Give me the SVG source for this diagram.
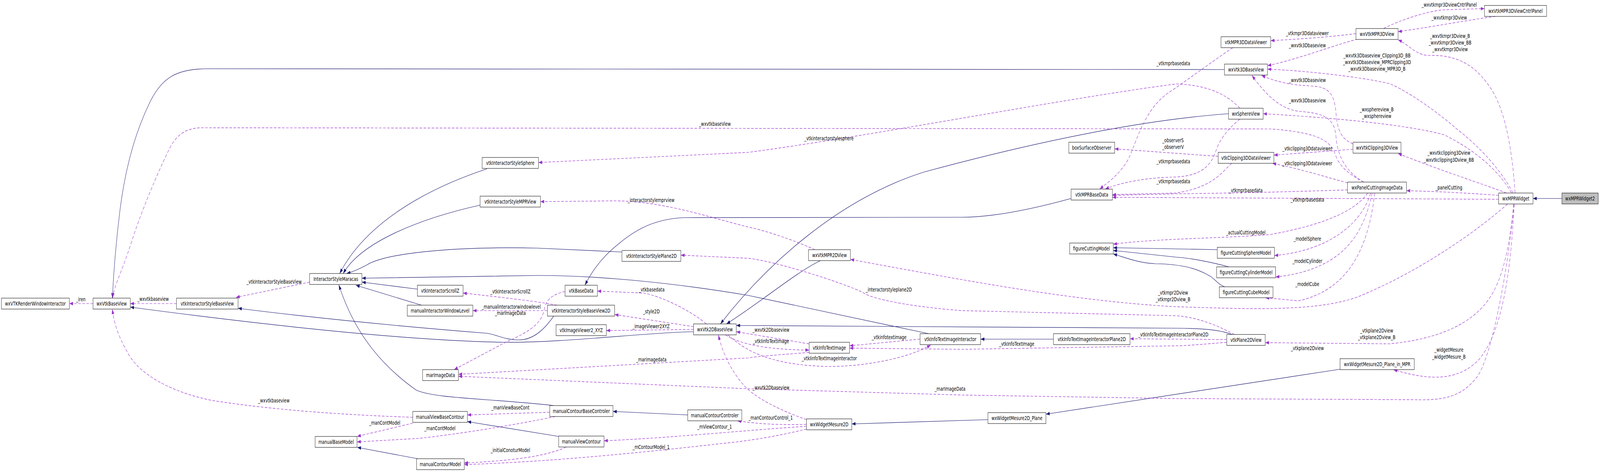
<svg xmlns="http://www.w3.org/2000/svg" width="5539" height="1208" viewBox="0 0 5539 1208" preserveAspectRatio="none">
<style>
svg{width:100vw;height:100vh;display:block}
.n rect{fill:#fff;stroke:#000;stroke-width:1}
.n text,.l{font-family:"DejaVu Sans",sans-serif;font-size:13.33px;text-anchor:middle;fill:#000}
.s{fill:none;stroke:#191970;stroke-width:1.2;marker-end:url(#ab)}
.d{fill:none;stroke:#9a32cd;stroke-width:1.2;stroke-dasharray:9,5;marker-end:url(#ap)}
</style>
<defs>
<marker id="ab" viewBox="0 0 13 9" refX="13" refY="4.5" markerWidth="13" markerHeight="9" markerUnits="userSpaceOnUse" orient="auto"><path d="M0,0L13,4.5L0,9z" fill="#191970"/></marker>
<marker id="ap" viewBox="0 0 13 9" refX="13" refY="4.5" markerWidth="13" markerHeight="9" markerUnits="userSpaceOnUse" orient="auto"><path d="M0,0L13,4.5L0,9z" fill="#9a32cd"/></marker>
</defs>
<rect width="5539" height="1208" fill="#fff"/>
<g id="connectors">
<path class="s" d="M5407,508 L5307,508"/>
<path class="s" d="M4239,178 L718,176 C610,176 560,200 520,260 C460,350 430,450 415,540 C400,630 393,700 389,763"/>
<path class="s" d="M2401,849 C2250,850 1950,878 1744,876 C1450,872 1000,840 451,786"/>
<path class="s" d="M1917,809 C1895,832 1855,870 1796,870 C1750,870 1720,857 1687,853 C1400,836 1100,815 824,789"/>
<path class="s" d="M1686,432 C1450,490 1260,580 1176,700"/>
<path class="s" d="M1662,525 C1450,560 1250,620 1188,700"/>
<path class="s" d="M2153,645 L1860,635 C1550,630 1330,650 1270,678 C1240,690 1215,697 1200,700"/>
<path class="s" d="M3215,854 L2590,756 C2300,720 2050,705 1860,705 L1253,712"/>
<path class="s" d="M1445,740 L1253,722"/>
<path class="s" d="M1459,781 L1232,730"/>
<path class="s" d="M1917,1038 C1700,1020 1500,1020 1440,998 C1330,940 1230,860 1173,729"/>
<path class="s" d="M3708,508 C3600,530 3450,556 3330,556 L2370,557 C2250,560 2180,600 2140,625 C2080,660 2045,700 2025,730"/>
<path class="s" d="M4253,291 C3900,310 3500,380 3200,440 C2900,510 2650,680 2494,829"/>
<path class="s" d="M2840,667 C2750,700 2640,770 2515,829"/>
<path class="s" d="M4265,856 C4220,843 4150,840 4070,840 L2549,833"/>
<path class="s" d="M1934,1117 L1618,1079"/>
<path class="s" d="M2381,1062 L2122,1053"/>
<path class="s" d="M1446,1174 L1237,1145"/>
<path class="s" d="M3647,868 L3395,868"/>
<path class="s" d="M4214,639 L3854,634"/>
<path class="s" d="M4254,683 C4200,672 4120,660 4070,658 L3854,641"/>
<path class="s" d="M4240,734 C4215,728 4205,712 4185,705 C4150,690 4100,676 4000,675 C3940,673 3900,660 3854,650"/>
<path class="s" d="M3420,1074 L2949,1085"/>
<path class="s" d="M4639,945 L3621,1060"/>

<path class="d" d="M322,777 L240,777"/>
<path class="d" d="M611,777 L451,777"/>
<path class="d" d="M1072,722 L817,761"/>
<path class="d" d="M4292,277 C4240,235 4160,216 4070,215 C3700,250 3000,350 2590,390 L1864,416"/>
<path class="d" d="M4721,466 C4680,450 4640,430 4625,400 C4610,365 4580,340 4400,330 L700,327 C640,327 612,348 592,373 C545,440 480,560 455,620 C420,700 395,730 390,763"/>
<path class="d" d="M2821,639 C2750,615 2650,590 2590,581 C2450,555 2300,516 2133,514 L1871,516"/>
<path class="d" d="M4273,856 C4220,835 4150,812 4070,808 L3330,795 C3150,785 3020,765 2990,750 C2960,735 2700,670 2590,661 L2357,653"/>
<path class="d" d="M2445,829 C2400,800 2300,760 2228,750 L2068,745"/>
<path class="d" d="M2401,836 L2128,805"/>
<path class="d" d="M2401,843 L2099,846"/>
<path class="d" d="M2801,902 C2700,908 2620,912 2590,916 L1587,958"/>
<path class="d" d="M5242,522 C5215,720 5160,920 5112,966 C5060,1015 5000,1025 4900,1023 L4070,1020 L3330,1011 L2590,995 L1587,963"/>
<path class="d" d="M1956,746 C1905,755 1890,770 1885,790 C1875,830 1830,850 1750,876 L1572,946"/>
<path class="d" d="M2801,880 L2549,849"/>
<path class="d" d="M2511,857 C2560,880 2650,895 2801,896"/>
<path class="d" d="M2520,857 C2570,890 2650,935 2870,938 C3000,938 3150,915 3222,883"/>
<path class="d" d="M3185,868 L2941,885"/>
<path class="d" d="M4247,876 C4150,882 4100,885 4070,885 L3330,894 L2941,891"/>
<path class="d" d="M4247,869 L3912,867"/>
<path class="d" d="M2792,1074 C2700,1050 2620,1020 2580,990 C2530,950 2500,900 2487,857"/>
<path class="d" d="M2792,1086 C2700,1088 2620,1085 2553,1077"/>
<path class="d" d="M2792,1091 C2600,1100 2300,1122 2091,1128"/>
<path class="d" d="M2792,1098 C2700,1115 2600,1128 2500,1135 C2200,1160 1900,1182 1607,1189"/>
<path class="d" d="M1960,1144 C1900,1165 1800,1178 1607,1185"/>
<path class="d" d="M1903,1055 L1618,1062"/>
<path class="d" d="M1922,1066 C1800,1085 1600,1110 1450,1122 L1236,1131"/>
<path class="d" d="M1429,1083 L1236,1117"/>
<path class="d" d="M1429,1068 C1200,1062 950,1050 735,1025 C600,1005 480,960 440,900 C410,860 395,830 389,791"/>
<path class="d" d="M1928,781 C1850,770 1700,758 1603,750"/>
<path class="d" d="M1895,795 L1637,795"/>
<path class="d" d="M4790,73 C4850,50 4950,27 5000,25 L5139,22"/>
<path class="d" d="M5177,42 C5050,55 4950,70 4840,81"/>
<path class="d" d="M5245,494 C5235,380 5210,280 5160,225 C5110,170 5050,140 4950,142 C4900,142 4880,115 4840,102"/>
<path class="d" d="M5238,494 C5200,440 5130,380 5043,330 C4950,270 4850,225 4810,214 C4700,195 4500,180 4388,177"/>
<path class="d" d="M5233,494 C5190,440 5120,390 5000,345 C4900,325 4700,305 4373,291"/>
<path class="d" d="M5215,494 C5150,475 5000,440 4840,393"/>
<path class="d" d="M5188,500 C5100,495 4980,490 4869,488"/>
<path class="d" d="M5188,510 L3851,505"/>
<path class="d" d="M5219,522 C5100,600 4900,700 4700,760 C4550,800 4300,790 4070,785 C3700,770 3300,712 2944,664"/>
<path class="d" d="M5240,522 C5225,640 5200,720 5150,770 C5080,840 4950,870 4810,880 L4380,877"/>
<path class="d" d="M5242,522 C5230,700 5200,850 5120,920 C5050,975 4950,975 4824,946"/>
<path class="d" d="M4735,494 C4700,530 4620,570 4400,600 C4250,610 4000,610 3854,625"/>
<path class="d" d="M4745,494 C4720,560 4620,640 4412,654"/>
<path class="d" d="M4750,494 C4720,600 4650,690 4416,709"/>
<path class="d" d="M4759,494 C4740,620 4680,740 4495,770 L4381,762"/>
<path class="d" d="M4665,486 C4500,490 4300,494 4070,496 L3851,500"/>
<path class="d" d="M4684,368 C4640,355 4630,330 4625,290 C4620,240 4600,222 4540,220 C4470,218 4420,210 4367,193"/>
<path class="d" d="M4721,466 C4660,440 4630,400 4625,350 C4620,300 4580,290 4500,285 C4430,280 4380,240 4334,193"/>
<path class="d" d="M4700,100 C4600,120 4500,150 4388,168"/>
<path class="d" d="M4694,86 C4600,95 4500,100 4399,104"/>
<path class="d" d="M4684,382 L4410,397"/>
<path class="d" d="M4665,468 C4600,455 4500,432 4405,418"/>
<path class="d" d="M4217,400 C4150,397 4000,388 3859,381"/>
<path class="d" d="M4264,418 C4230,440 4200,480 4070,494 L3851,498"/>
<path class="d" d="M4268,122 C4220,145 4120,200 4040,240 C3950,290 3930,380 3900,415 C3870,450 3830,470 3807,484"/>
<path class="d" d="M4292,305 C4250,330 4220,360 4210,385 C4190,430 4150,450 4070,453 C3950,455 3870,470 3826,484"/>

<text class="l" x="280" y="771">_iren</text>
<text class="l" x="530" y="770">_wxvtkbaseview</text>
<text class="l" x="949" y="726">_vtkInteractorStyleBaseView</text>
<text class="l" x="948" y="1030">_wxvtkbaseview</text>
<text class="l" x="1332" y="1087">_manContModel</text>
<text class="l" x="1523" y="1101">_manContModel</text>
<text class="l" x="2870" y="359">_vtkinteractorstylesphere</text>
<text class="l" x="2475" y="322">_wxvtkbaseView</text>
<text class="l" x="2254" y="517">_interactorstylemprview</text>
<text class="l" x="3077" y="746">_interactorstyleplane2D</text>
<text class="l" x="2256" y="746">_vtkbasedata</text>
<text class="l" x="2255" y="802">_style2D</text>
<text class="l" x="2254" y="840">_imageViewer2XYZ</text>
<text class="l" x="2255" y="925">_marimagedata</text>
<text class="l" x="1767" y="806">_marImageData</text>
<text class="l" x="1767" y="751">_vtkInteractorScrollZ</text>
<text class="l" x="1770" y="790">_manualinteractorwindowlevel</text>
<text class="l" x="1767" y="1048">_manViewBaseCont</text>
<text class="l" x="1767" y="1157">_initialConoturModel</text>
<text class="l" x="2474" y="1097">_mViewContour_1</text>
<text class="l" x="2254" y="1149">_mContourModel_1</text>
<text class="l" x="2668" y="1074">_manContourControl_1</text>
<text class="l" x="2669" y="849">_wxvtk2Dbaseview</text>
<text class="l" x="2669" y="878">_vtkIinfoTextImage</text>
<text class="l" x="2871" y="922">_vtkIinfoTextImageInteractor</text>
<text class="l" x="3078" y="868">_vtkinfotextimage</text>
<text class="l" x="2669" y="997">_wxvtk2Dbaseview</text>
<text class="l" x="3289" y="1000">_marImageData</text>
<text class="l" x="3520" y="885">_vtkInfoTextImage</text>
<text class="l" x="4062" y="861">_vtkInfoTextImageInteractorPlane2D</text>
<text class="l" x="4061" y="754">_vtkmpr2Dview</text>
<text class="l" x="4061" y="771">_vtkmpr2Dview_B</text>
<text class="l" x="4061" y="364">_observerS</text>
<text class="l" x="4061" y="381">_observerV</text>
<text class="l" x="4062" y="167">_vtkmprbasedata</text>
<text class="l" x="4062" y="418">_vtkmprbasedata</text>
<text class="l" x="4062" y="469">_vtkmprbasedata</text>
<text class="l" x="4313" y="492">_vtkmprbasedata</text>
<text class="l" x="4526" y="516">_vtkmprbasedata</text>
<text class="l" x="4313" y="600">_actualCuttingModel</text>
<text class="l" x="4526" y="616">_modelSphere</text>
<text class="l" x="4526" y="673">_modelCylinder</text>
<text class="l" x="4526" y="732">_modelCube</text>
<text class="l" x="4526" y="896">_vtkplane2Dview</text>
<text class="l" x="4526" y="90">_vtkmpr3Ddataviewer</text>
<text class="l" x="4526" y="121">_wxvtk3Dbaseview</text>
<text class="l" x="4526" y="210">_wxvtk3Dbaseview</text>
<text class="l" x="4526" y="262">_wxvtk3Dbaseview</text>
<text class="l" x="4526" y="385">_vtkclipping3Ddataviewer</text>
<text class="l" x="4526" y="423">_vtkclipping3Ddataviewer</text>
<text class="l" x="4767" y="147">_wxvtk3Dbaseview_Clipping3D_BB</text>
<text class="l" x="4767" y="164">_wxvtk3Dbaseview_MPRClipping3D</text>
<text class="l" x="4767" y="181">_wxvtk3Dbaseview_MPR3D_B</text>
<text class="l" x="4766" y="285">_wxsphereview_B</text>
<text class="l" x="4766" y="302">_wxsphereview</text>
<text class="l" x="4766" y="851">_vtkplane2Dview</text>
<text class="l" x="4766" y="868">_vtkplane2Dview_B</text>
<text class="l" x="5017" y="17">_wxvtkmpr3DviewCntrlPanel</text>
<text class="l" x="5017" y="50">_wxvtkmpr3Dview</text>
<text class="l" x="5020" y="97">_wxvtkmpr3Dview_B</text>
<text class="l" x="5020" y="114">_wxvtkmpr3Dview_BB</text>
<text class="l" x="5020" y="131">_wxvtkmpr3Dview</text>
<text class="l" x="5016" y="396">_wxvtkclipping3Dview</text>
<text class="l" x="5016" y="414">_wxvtkclipping3Dview_BB</text>
<text class="l" x="5016" y="485">_panelCutting</text>
<text class="l" x="5016" y="900">_widgetMesure</text>
<text class="l" x="5016" y="918">_widgetMesure_B</text>
</g>

<g id="wxVTKRenderWindowInteractor" class="n"><rect x="5" y="763" width="235" height="28"/><text x="122.5" y="782">wxVTKRenderWindowInteractor</text></g>
<g id="wxVtkBaseView" class="n"><rect x="322" y="763" width="129" height="28"/><text x="386.5" y="782">wxVtkBaseView</text></g>
<g id="vtkInteractorStyleBaseView" class="n"><rect x="611" y="763" width="213" height="28"/><text x="717.5" y="782">vtkInteractorStyleBaseView</text></g>
<g id="InteractorStyleMaracas" class="n"><rect x="1072" y="700" width="181" height="28"/><text x="1162.5" y="719">InteractorStyleMaracas</text></g>
<g id="vtkInteractorStyleSphere" class="n"><rect x="1669" y="403" width="195" height="28"/><text x="1766.5" y="422">vtkInteractorStyleSphere</text></g>
<g id="vtkInteractorStyleMPRView" class="n"><rect x="1662" y="502" width="209" height="28"/><text x="1766.5" y="521">vtkInteractorStyleMPRView</text></g>
<g id="vtkInteractorScrollZ" class="n"><rect x="1445" y="730" width="158" height="28"/><text x="1524" y="749">vtkInteractorScrollZ</text></g>
<g id="manualInteractorWindowLevel" class="n"><rect x="1410" y="781" width="227" height="28"/><text x="1523.5" y="800">manualInteractorWindowLevel</text></g>
<g id="vtkInteractorStyleBaseView2D" class="n"><rect x="1895" y="781" width="233" height="28"/><text x="2011.5" y="800">vtkInteractorStyleBaseView2D</text></g>
<g id="vtkImageViewer2_XYZ" class="n"><rect x="1925" y="831" width="174" height="28"/><text x="2012" y="850">vtkImageViewer2_XYZ</text></g>
<g id="vtkBaseData" class="n"><rect x="1956" y="730" width="112" height="28"/><text x="2012" y="749">vtkBaseData</text></g>
<g id="vtkInteractorStylePlane2D" class="n"><rect x="2153" y="641" width="204" height="28"/><text x="2255" y="660">vtkInteractorStylePlane2D</text></g>
<g id="marImageData" class="n"><rect x="1463" y="946" width="124" height="28"/><text x="1525" y="965">marImageData</text></g>
<g id="manualContourBaseControler" class="n"><rect x="1903" y="1038" width="219" height="28"/><text x="2012.5" y="1057">manualContourBaseControler</text></g>
<g id="manualViewBaseContour" class="n"><rect x="1429" y="1053" width="189" height="28"/><text x="1523.5" y="1072">manualViewBaseContour</text></g>
<g id="manualViewContour" class="n"><rect x="1934" y="1116" width="157" height="28"/><text x="2012.5" y="1135">manualViewContour</text></g>
<g id="manualContourModel" class="n"><rect x="1442" y="1174" width="165" height="28"/><text x="1524.5" y="1193">manualContourModel</text></g>
<g id="manualBaseModel" class="n"><rect x="1091" y="1117" width="145" height="28"/><text x="1163.5" y="1136">manualBaseModel</text></g>
<g id="manualContourControler" class="n"><rect x="2381" y="1049" width="187" height="28"/><text x="2474.5" y="1068">manualContourControler</text></g>
<g id="wxVtk2DBaseView" class="n"><rect x="2401" y="829" width="148" height="28"/><text x="2475" y="848">wxVtk2DBaseView</text></g>
<g id="wxVtkMPR2DView" class="n"><rect x="2799" y="639" width="145" height="28"/><text x="2871.5" y="658">wxVtkMPR2DView</text></g>
<g id="vtkInfoTextImage" class="n"><rect x="2801" y="876" width="140" height="28"/><text x="2871" y="895">vtkInfoTextImage</text></g>
<g id="vtkInfoTextImageInteractor" class="n"><rect x="3185" y="854" width="210" height="28"/><text x="3290" y="873">vtkInfoTextImageInteractor</text></g>
<g id="wxWidgetMesure2D" class="n"><rect x="2792" y="1072" width="157" height="28"/><text x="2870.5" y="1091">wxWidgetMesure2D</text></g>
<g id="vtkInfoTextImageInteractorPlane2D" class="n"><rect x="3647" y="854" width="265" height="28"/><text x="3779.5" y="873">vtkInfoTextImageInteractorPlane2D</text></g>
<g id="wxWidgetMesure2D_Plane" class="n"><rect x="3420" y="1056" width="201" height="28"/><text x="3520.5" y="1075">wxWidgetMesure2D_Plane</text></g>
<g id="boxSurfaceObserver" class="n"><rect x="3700" y="364" width="159" height="28"/><text x="3779.5" y="383">boxSurfaceObserver</text></g>
<g id="vtkMPRBaseData" class="n"><rect x="3708" y="484" width="143" height="28"/><text x="3779.5" y="503">vtkMPRBaseData</text></g>
<g id="figureCuttingModel" class="n"><rect x="3703" y="622" width="151" height="28"/><text x="3778.5" y="641">figureCuttingModel</text></g>
<g id="vtkMPR3DDataViewer" class="n"><rect x="4227" y="94" width="172" height="28"/><text x="4313" y="113">vtkMPR3DDataViewer</text></g>
<g id="wxVtk3DBaseView" class="n"><rect x="4239" y="164" width="149" height="28"/><text x="4313.5" y="183">wxVtk3DBaseView</text></g>
<g id="wxSphereView" class="n"><rect x="4253" y="277" width="120" height="28"/><text x="4313" y="296">wxSphereView</text></g>
<g id="vtkClipping3DDataViewer" class="n"><rect x="4217" y="390" width="193" height="28"/><text x="4313.5" y="409">vtkClipping3DDataViewer</text></g>
<g id="figureCuttingSphereModel" class="n"><rect x="4214" y="633" width="198" height="28"/><text x="4313" y="652">figureCuttingSphereModel</text></g>
<g id="figureCuttingCylinderModel" class="n"><rect x="4212" y="683" width="204" height="28"/><text x="4314" y="702">figureCuttingCylinderModel</text></g>
<g id="figureCuttingCubeModel" class="n"><rect x="4221" y="734" width="186" height="28"/><text x="4314" y="753">figureCuttingCubeModel</text></g>
<g id="vtkPlane2DView" class="n"><rect x="4247" y="856" width="133" height="28"/><text x="4313.5" y="875">vtkPlane2DView</text></g>
<g id="wxVtkMPR3DView" class="n"><rect x="4694" y="73" width="146" height="28"/><text x="4767" y="92">wxVtkMPR3DView</text></g>
<g id="wxVtkClipping3DView" class="n"><rect x="4684" y="364" width="166" height="28"/><text x="4767" y="383">wxVtkClipping3DView</text></g>
<g id="wxPanelCuttingImageData" class="n"><rect x="4665" y="466" width="204" height="28"/><text x="4767" y="485">wxPanelCuttingImageData</text></g>
<g id="wxWidgetMesure2D_Plane_in_MPR" class="n"><rect x="4639" y="918" width="257" height="28"/><text x="4767.5" y="937">wxWidgetMesure2D_Plane_in_MPR</text></g>
<g id="wxVtkMPR3DViewCntrlPanel" class="n"><rect x="5139" y="14" width="215" height="28"/><text x="5246.5" y="33">wxVtkMPR3DViewCntrlPanel</text></g>
<g id="wxMPRWidget" class="n"><rect x="5188" y="494" width="119" height="28"/><text x="5247.5" y="513">wxMPRWidget</text></g>
<g id="wxMPRWidget2" class="n"><rect x="5407" y="494" width="126" height="28" style="fill:#bfbfbf"/><text x="5470" y="513">wxMPRWidget2</text></g>
</svg>
